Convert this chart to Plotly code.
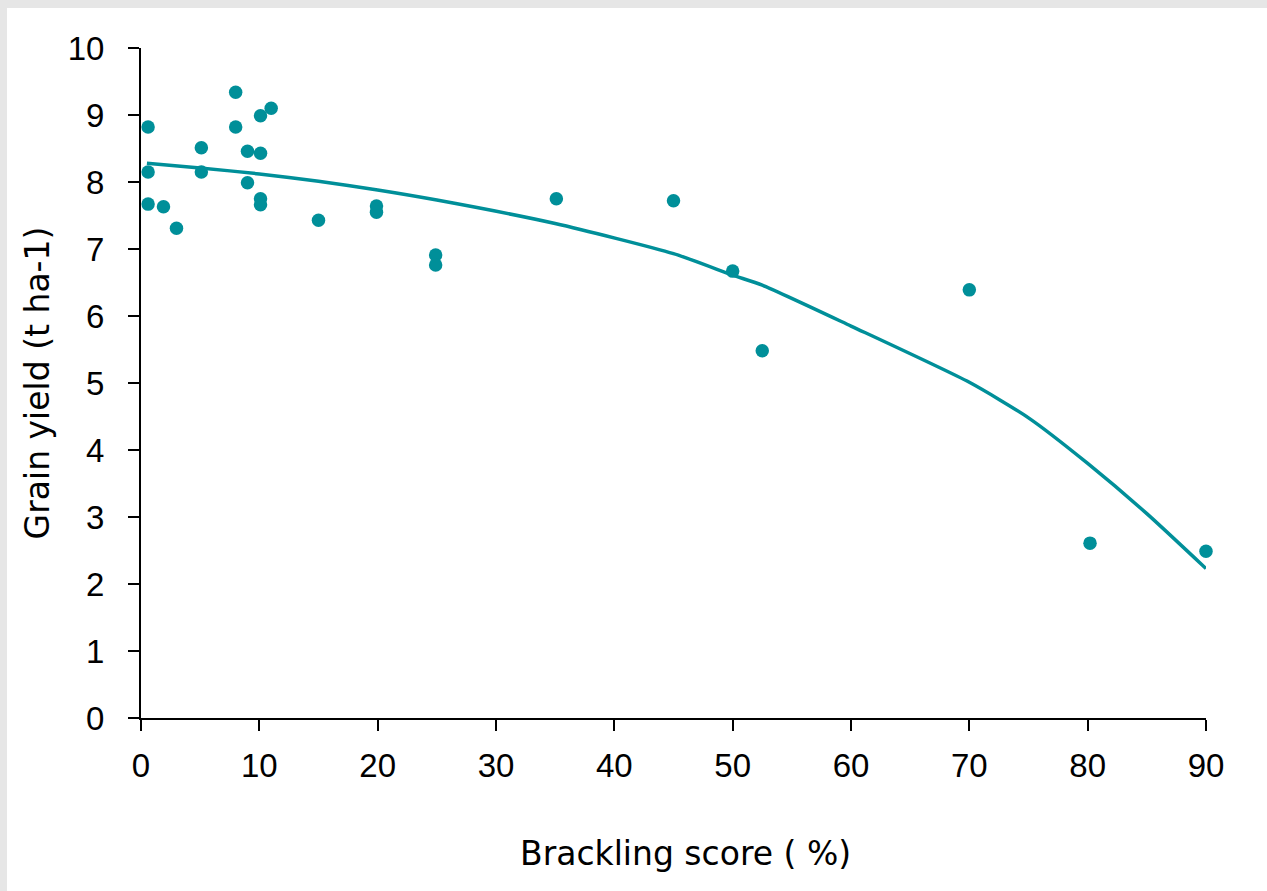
import plotly.graph_objects as go

# Observed data points
brackling = [0.6, 0.6, 0.6, 1.9, 3.0, 5.1, 5.1, 8.0, 8.0, 9.0, 9.0, 10.1, 10.1, 10.1, 10.1,
             11.0, 15.0, 19.9, 19.9, 24.9, 24.9, 35.1, 45.0, 50.0, 52.5, 70.0, 80.2, 90.0]
grain_yield = [8.82, 8.15, 7.67, 7.63, 7.31, 8.51, 8.15, 9.34, 8.82, 8.46, 7.99, 8.99, 8.43, 7.75, 7.66,
               9.10, 7.43, 7.64, 7.55, 6.91, 6.76, 7.75, 7.72, 6.67, 5.48, 6.39, 2.61, 2.49]

# Fitted trend curve
trend_x = [0.5, 5, 10, 15, 20, 25, 35, 45, 50, 52.5, 60, 70, 75, 80, 85, 90]
trend_y = [8.28, 8.21, 8.12, 8.01, 7.88, 7.73, 7.38, 6.93, 6.61, 6.46, 5.85, 5.01, 4.48, 3.80, 3.05, 2.23]

x_ticks = [0, 10, 20, 30, 40, 50, 60, 70, 80, 90]
y_ticks = [0, 1, 2, 3, 4, 5, 6, 7, 8, 9, 10]

teal = "#008F99"
title_font = "'DejaVu Sans', sans-serif"
tick_font = "'Liberation Sans', Arial, sans-serif"

W, H = 1267, 891
L, R, T, B = 141, 61, 48, 173
PW, PH = W - L - R, H - T - B

fig = go.Figure()
fig.add_trace(go.Scatter(x=trend_x, y=trend_y, mode="lines",
                         line=dict(color=teal, width=3.5, shape="spline", smoothing=0.6),
                         showlegend=False, hoverinfo="skip"))
fig.add_trace(go.Scatter(x=brackling, y=grain_yield, mode="markers",
                         marker=dict(color=teal, size=13.5, line=dict(width=0)),
                         showlegend=False, cliponaxis=False))

gray = "#e6e6e6"
fig.update_layout(
    width=W, height=H,
    margin=dict(l=L, r=R, t=T, b=B),
    paper_bgcolor="white", plot_bgcolor="white",
    font=dict(family=title_font, size=30, color="black"),
    shapes=[
        dict(type="rect", xref="paper", yref="paper", x0=-L / PW, x1=(W - L) / PW,
             y0=1 + (T - 8) / PH, y1=1 + T / PH, fillcolor=gray, line=dict(width=0), layer="above"),
        dict(type="rect", xref="paper", yref="paper", x0=-L / PW, x1=-(L - 7) / PW,
             y0=-B / PH, y1=1 + T / PH, fillcolor=gray, line=dict(width=0), layer="above"),
    ],
    annotations=[
        dict(text="Brackling score ( %)", xref="paper", yref="paper",
             x=(685 - L) / PW, y=(718 - 853) / PH, xanchor="center", yanchor="middle",
             showarrow=False, font=dict(family=title_font, size=33)),
    ],
    xaxis=dict(range=[0, 90], tickvals=x_ticks, ticktext=[str(v) for v in x_ticks],
               showgrid=False, zeroline=False, showline=True, linecolor="black", linewidth=2,
               ticks="outside", ticklen=11, tickwidth=2, tickcolor="black",
               ticklabelstandoff=6,
               tickfont=dict(family=tick_font, size=33)),
    yaxis=dict(range=[0, 10], tickvals=y_ticks, ticktext=[str(v) for v in y_ticks],
               showgrid=False, zeroline=False, showline=True, linecolor="black", linewidth=2,
               ticks="outside", ticklen=11, tickwidth=2, tickcolor="black",
               ticklabelstandoff=17,
               tickfont=dict(family=tick_font, size=33),
               title=dict(text="Grain yield (t ha-1)", font=dict(family=title_font, size=33), standoff=8)),
)

fig.write_html("out.html",
               config={"displayModeBar": False},
               post_script="document.body.style.margin='0';"
                           "document.body.style.overflow='hidden';"
                           "document.documentElement.style.overflow='hidden';")
